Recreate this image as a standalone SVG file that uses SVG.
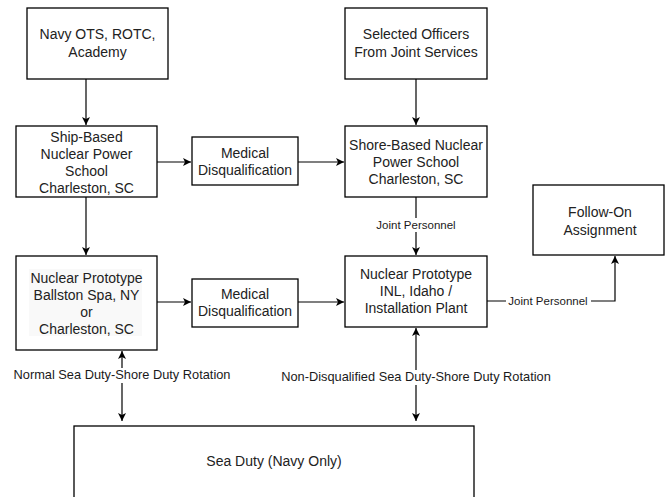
<svg xmlns="http://www.w3.org/2000/svg" width="665" height="497" viewBox="0 0 665 497">
<style>
.box{fill:#fff;stroke:#000;stroke-width:1.3}
.t{font-family:"Liberation Sans",Arial,sans-serif;font-size:14px;fill:#222;text-anchor:middle}
.lbl{font-family:"Liberation Sans",Arial,sans-serif;font-size:12.8px;fill:#1a1a1a;text-anchor:middle}
.lbs{font-family:"Liberation Sans",Arial,sans-serif;font-size:11.5px;fill:#1a1a1a;text-anchor:middle}
.c{fill:none;stroke:#000;stroke-width:1.2}
.bg{fill:#fff}
</style>
<defs>
<marker id="ah" viewBox="0 0 10 10" refX="10" refY="5" markerWidth="8" markerHeight="8" markerUnits="userSpaceOnUse" orient="auto-start-reverse">
<path d="M0,0 L10,5 L0,10 L2.5,5 z" fill="#000"/>
</marker>
</defs>
<rect width="665" height="497" fill="#fff"/>
<g id="connectors">
<path class="c" d="M86,79 V125" marker-end="url(#ah)"/>
<path class="c" d="M416,79 V125" marker-end="url(#ah)"/>
<path class="c" d="M157,162 H191" marker-end="url(#ah)"/>
<path class="c" d="M298,162 H344" marker-end="url(#ah)"/>
<path class="c" d="M86,197 V255" marker-end="url(#ah)"/>
<path class="c" d="M416,197 V255" marker-end="url(#ah)"/>
<path class="c" d="M157,302 H191" marker-end="url(#ah)"/>
<path class="c" d="M298,302 H344" marker-end="url(#ah)"/>
<path class="c" d="M487,301 H615 V256" marker-end="url(#ah)"/>
<path class="c" d="M122,351 V421" marker-start="url(#ah)" marker-end="url(#ah)"/>
<path class="c" d="M416,328 V421" marker-start="url(#ah)" marker-end="url(#ah)"/>
<rect class="bg" x="366" y="218" width="100" height="14"/>
<text class="lbs" x="416" y="229">Joint Personnel</text>
<rect class="bg" x="506" y="294" width="85" height="14"/>
<text class="lbs" x="548" y="305">Joint Personnel</text>
<rect class="bg" x="10" y="368" width="226" height="15"/>
<text class="lbl" x="122" y="379">Normal Sea Duty-Shore Duty Rotation</text>
<rect class="bg" x="266" y="370" width="300" height="15"/>
<text class="lbl" x="416" y="381">Non-Disqualified Sea Duty-Shore Duty Rotation</text>
</g>
<g id="navy-ots">
<rect class="box" x="27" y="8" width="141" height="71"/>
<text class="t" x="97.5" y="39">Navy OTS, ROTC,</text>
<text class="t" x="97.5" y="57">Academy</text>
</g>
<g id="selected-officers">
<rect class="box" x="345" y="8" width="142" height="71"/>
<text class="t" x="416" y="39">Selected Officers</text>
<text class="t" x="416" y="57">From Joint Services</text>
</g>
<g id="ship-based">
<rect class="box" x="16" y="126" width="141" height="71"/>
<text class="t" x="86.5" y="142">Ship-Based</text>
<text class="t" x="86.5" y="159">Nuclear Power</text>
<text class="t" x="86.5" y="176">School</text>
<text class="t" x="86.5" y="193">Charleston, SC</text>
</g>
<g id="medical-1">
<rect class="box" x="192" y="137" width="106" height="48"/>
<text class="t" x="245" y="158">Medical</text>
<text class="t" x="245" y="175">Disqualification</text>
</g>
<g id="shore-based">
<rect class="box" x="345" y="126" width="142" height="71"/>
<text class="t" x="416" y="150">Shore-Based Nuclear</text>
<text class="t" x="416" y="167">Power School</text>
<text class="t" x="416" y="184">Charleston, SC</text>
</g>
<g id="follow-on">
<rect class="box" x="533" y="185" width="131" height="70"/>
<text class="t" x="600" y="217">Follow-On</text>
<text class="t" x="600" y="235">Assignment</text>
</g>
<g id="ballston">
<rect class="box" x="16" y="256" width="141" height="94"/>
<rect x="29" y="269" width="113" height="67" fill="#f9f9f9"/>
<text class="t" x="86.5" y="283">Nuclear Prototype</text>
<text class="t" x="86.5" y="300">Ballston Spa, NY</text>
<text class="t" x="86.5" y="317">or</text>
<text class="t" x="86.5" y="334">Charleston, SC</text>
</g>
<g id="medical-2">
<rect class="box" x="192" y="279" width="106" height="48"/>
<text class="t" x="245" y="299">Medical</text>
<text class="t" x="245" y="316">Disqualification</text>
</g>
<g id="inl">
<rect class="box" x="345" y="256" width="142" height="71"/>
<text class="t" x="416" y="279">Nuclear Prototype</text>
<text class="t" x="416" y="296">INL, Idaho /</text>
<text class="t" x="416" y="313">Installation Plant</text>
</g>
<g id="sea-duty">
<rect class="box" x="74" y="426" width="400" height="90"/>
<text class="t" x="274" y="466">Sea Duty (Navy Only)</text>
</g>
</svg>
